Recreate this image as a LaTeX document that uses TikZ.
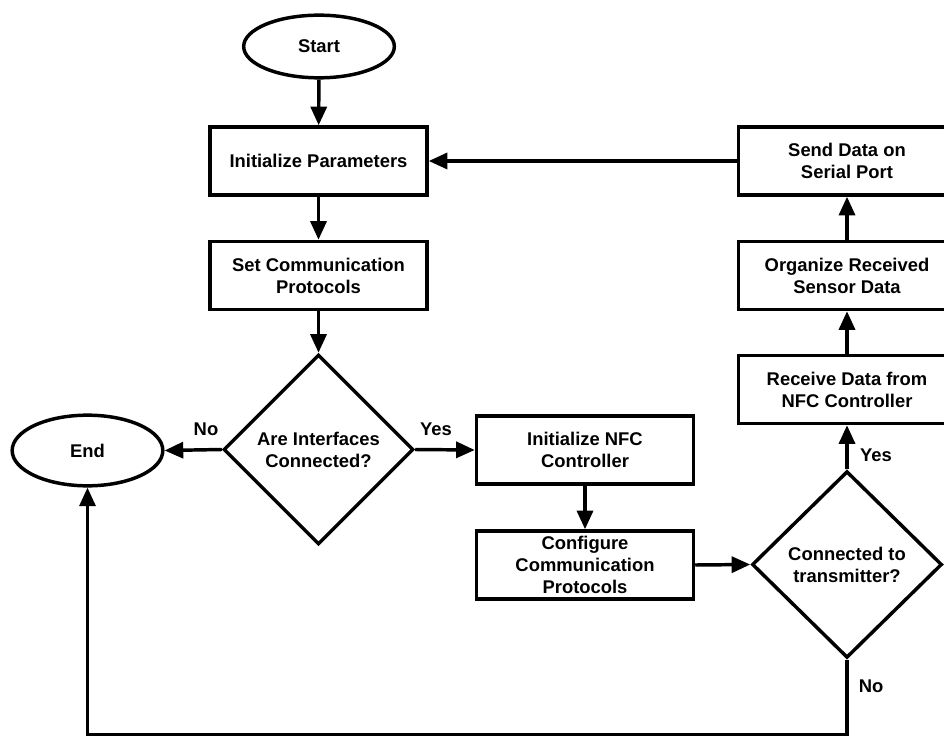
\documentclass[tikz,border=0pt]{standalone}
\usepackage{fontspec}
\setmainfont{Liberation Sans}
\usetikzlibrary{shapes.geometric,arrows.meta}
\begin{document}
\begin{tikzpicture}[x=0.75pt,y=-0.75pt,
  every node/.style={font=\bfseries\fontsize{13.8}{16.5}\selectfont, align=center, inner sep=0pt},
  box/.style={draw, line width=2.6pt, rectangle, minimum width=162.75pt, minimum height=51pt},
  term/.style={draw, line width=2.6pt, ellipse},
  decide/.style={draw, line width=2.6pt, diamond, minimum width=142.5pt, minimum height=142.5pt},
  conn/.style={line width=2.6pt, -{Triangle[length=14pt,width=12pt]}},
  lbl/.style={}]
\useasboundingbox (0,0) rectangle (944,737);
\clip (0,0) rectangle (944,737);

\node[term, minimum width=113pt, minimum height=47pt] (start) at (319,46.5) {Start};
\node[box] (init) at (318.5,161) {Initialize Parameters};
\node[box] (setc) at (318.5,275.5) {Set Communication\\Protocols};
\node[decide] (d1) at (318.5,449.5) {Are Interfaces\\Connected?};
\node[term, minimum width=113pt, minimum height=53pt] (end) at (87.5,450.5) {End};
\node[box] (nfc) at (585,450) {Initialize NFC\\Controller};
\node[box] (conf) at (585,565) {Configure\\Communication\\Protocols};
\node[decide, minimum height=140pt] (d2) at (847,564.5) {Connected to\\transmitter?};
\node[box] (recv) at (847,389.5) {Receive Data from\\NFC Controller};
\node[box] (org) at (847,275.5) {Organize Received\\Sensor Data};
\node[box] (send) at (847,161) {Send Data on\\Serial Port};

\node[lbl] (lno1) at (206,429) {No};
\node[lbl] (lyes1) at (436,429) {Yes};
\node[lbl] (lyes2) at (876,455) {Yes};
\node[lbl] (lno2) at (871,686) {No};
\coordinate (c1) at (847,734.5);
\coordinate (c2) at (87.5,734.5);

\draw[conn] (start) -- (init);
\draw[conn] (init) -- (setc);
\draw[conn] (setc) -- (d1);
\draw[conn] (d1.west) -- (end.east);
\draw[conn] (d1.east) -- (nfc.west);
\draw[conn] (nfc) -- (conf);
\draw[conn] (conf.east) -- (d2.west);
\draw[conn] (d2.north) -- (recv.south);
\draw[conn] (recv) -- (org);
\draw[conn] (org) -- (send);
\draw[conn] (send.west) -- (init.east);
\draw[conn] (d2.south) -- (c1) -- (c2) -- (end.south);
\end{tikzpicture}
\end{document}
